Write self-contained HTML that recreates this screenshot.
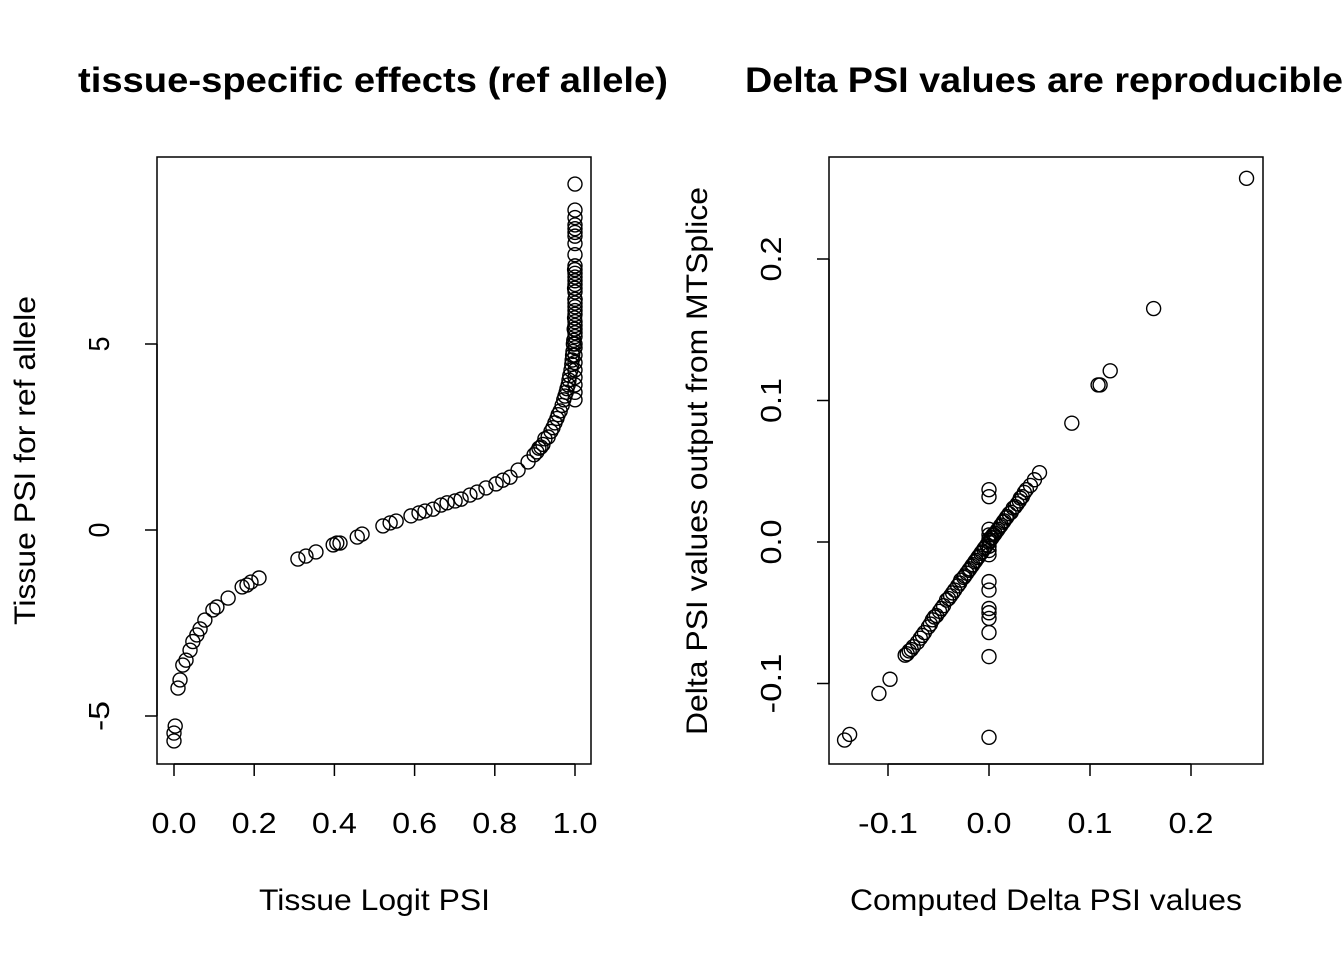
<!DOCTYPE html>
<html><head><meta charset="utf-8"><style>
body{margin:0;background:#fff}
svg text{font-family:"Liberation Sans",Arial,sans-serif;fill:#000}
</style></head><body>
<svg id="chart" width="1344" height="960" xmlns="http://www.w3.org/2000/svg">
<text x="78" y="92" font-size="35" font-weight="bold" textLength="590" lengthAdjust="spacingAndGlyphs">tissue-specific effects (ref allele)</text>
<text x="745" y="92" font-size="35" font-weight="bold" textLength="598" lengthAdjust="spacingAndGlyphs">Delta PSI values are reproducible</text>
<text x="259" y="910" font-size="30" textLength="231" lengthAdjust="spacingAndGlyphs">Tissue Logit PSI</text>
<text transform="translate(35,625) rotate(-90)" font-size="30" textLength="329" lengthAdjust="spacingAndGlyphs">Tissue PSI for ref allele</text>
<text x="850" y="910" font-size="30" textLength="392" lengthAdjust="spacingAndGlyphs">Computed Delta PSI values</text>
<text transform="translate(707,735) rotate(-90)" font-size="30" textLength="548" lengthAdjust="spacingAndGlyphs">Delta PSI values output from MTSplice</text>
<rect x="157" y="157" width="434" height="607" fill="none" stroke="#000" stroke-width="1.5"/>
<rect x="829" y="157" width="434" height="607" fill="none" stroke="#000" stroke-width="1.5"/>
<g id="layer"></g>
</svg>
<script>
const leftX=[0.0,0.0,0.003,0.01,0.015,0.022,0.03,0.04,0.047,0.057,0.065,0.077,0.097,0.107,0.135,0.170,0.182,0.192,0.212,0.309,0.329,0.354,0.397,0.406,0.414,0.457,0.469,0.521,0.539,0.554,0.591,0.611,0.626,0.646,0.666,0.681,0.701,0.716,0.738,0.756,0.778,0.803,0.82,0.838,0.858,0.883,0.898,0.905,0.915,0.92,0.933,0.94,0.95,0.955,0.963,0.968,0.975,0.98,0.985,0.99,0.993,0.995,0.997,0.998,1.0,
0.91,0.925,0.945,0.958,0.972,0.978,0.983,0.987,0.992,0.994,0.996,0.999,0.999,0.999,
1,1,1,1,1,1,1,1,1,1,1,1,1,1,1,1,1,1,1,1,1,1,1,1,1,1,1,1,1,1,1,1,1,1,1,1];
const leftY=[-5.67,-5.46,-5.27,-4.25,-4.03,-3.63,-3.5,-3.23,-3.0,-2.82,-2.66,-2.42,-2.15,-2.07,-1.83,-1.53,-1.48,-1.40,-1.29,-0.78,-0.70,-0.59,-0.40,-0.35,-0.35,-0.19,-0.11,0.11,0.19,0.24,0.38,0.46,0.51,0.56,0.67,0.73,0.78,0.83,0.94,1.02,1.13,1.24,1.34,1.42,1.61,1.83,2.02,2.1,2.23,2.3,2.5,2.65,2.88,3.0,3.2,3.35,3.6,3.8,4.03,4.3,4.57,4.8,5.1,5.4,6.2,
2.2,2.45,2.75,3.1,3.5,3.7,3.9,4.15,4.45,4.7,5.0,5.7,6.5,7.0,
3.5,3.7,3.9,4.1,4.3,4.5,4.7,4.9,5.0,5.2,5.4,5.6,5.8,6.0,6.2,6.4,6.6,6.8,7.0,6.5,6.7,6.9,7.1,7.4,7.7,8.0,8.2,8.4,8.6,7.9,8.1,6.1,9.3,5.3,5.5,5.9];
const leftXTicks=[0,0.2,0.4,0.6,0.8,1.0];
const leftXTickLabels=["0.0","0.2","0.4","0.6","0.8","1.0"];
const leftYTicks=[-5,0,5];
const leftYTickLabels=["-5","0","5"];

const rightX=[0.255,0.163,0.12,0.11,0.108,0.082,-0.098,-0.109,-0.138,-0.143,
0,0,0,0,0,0,0,0,0,0,
-0.083,-0.079,-0.075,-0.071,-0.068,-0.064,-0.06,-0.056,-0.052,-0.049,-0.045,-0.042,-0.038,-0.034,-0.031,-0.028,-0.025,-0.022,-0.019,-0.016,-0.013,-0.01,-0.007,-0.004,-0.002,0.0,0.002,0.004,0.006,0.009,0.012,0.015,0.018,0.022,0.026,0.03,0.033,0.037,0.041,0.045,0.05,
-0.081,-0.077,-0.066,-0.058,-0.054,-0.047,-0.040,-0.036,-0.029,-0.024,-0.020,-0.017,-0.014,-0.011,-0.008,-0.005,0.001,0.003,0.005,0.008,0.011,0.014,0.017,0.020,0.024,0.028,0.031,0.035,
0,0,0,0,0,0];
const rightY=[0.257,0.165,0.121,0.111,0.111,0.084,-0.097,-0.107,-0.136,-0.14,
0.037,0.032,-0.028,-0.034,-0.047,-0.05,-0.054,-0.064,-0.081,-0.138,
-0.080,-0.077,-0.074,-0.071,-0.068,-0.064,-0.06,-0.055,-0.052,-0.049,-0.045,-0.041,-0.038,-0.034,-0.031,-0.027,-0.025,-0.022,-0.019,-0.016,-0.013,-0.01,-0.007,-0.004,-0.002,0.0,0.003,0.005,0.006,0.009,0.012,0.015,0.018,0.021,0.025,0.029,0.032,0.037,0.040,0.044,0.049,
-0.079,-0.076,-0.066,-0.058,-0.053,-0.047,-0.040,-0.036,-0.029,-0.024,-0.020,-0.017,-0.014,-0.011,-0.008,-0.005,0.001,0.003,0.005,0.008,0.011,0.014,0.017,0.020,0.024,0.027,0.031,0.035,
0.009,0.005,0.002,-0.003,-0.006,-0.009];
const rightXTicks=[-0.1,0,0.1,0.2];
const rightXTickLabels=["-0.1","0.0","0.1","0.2"];
const rightYTicks=[-0.1,0,0.1,0.2];
const rightYTickLabels=["-0.1","0.0","0.1","0.2"];

const NS="http://www.w3.org/2000/svg";
const layer=document.getElementById('layer');
function mk(tag,attrs){const e=document.createElementNS(NS,tag);for(const k in attrs)e.setAttribute(k,attrs[k]);layer.appendChild(e);return e;}
const lx=v=>174+v*401, ly=v=>530-v*37.2;
const rx=v=>989+v*1010, ry=v=>542-v*1415;
const cw=15;

function axes(prefix,xt,xl,yt,yl,fx,fy,left,bottom){
  const x0=fx(xt[0]),x1=fx(xt[xt.length-1]);
  let e=mk('line',{x1:x0,x2:x1,y1:bottom,y2:bottom,stroke:'#000','stroke-width':1.5});
  
  
  xt.forEach((t,i)=>{
    let l=mk('line',{x1:fx(t),x2:fx(t),y1:bottom,y2:bottom+12,stroke:'#000','stroke-width':1.5});
    
    
    let s=mk('text',{x:fx(t),y:bottom+69,'text-anchor':'middle','font-size':29,textLength:xl[i].length*cw,lengthAdjust:'spacingAndGlyphs'});
    s.textContent=xl[i];
    
    
  });
  const y0=fy(yt[0]),y1=fy(yt[yt.length-1]);
  e=mk('line',{x1:left,x2:left,y1:y0,y2:y1,stroke:'#000','stroke-width':1.5});
  
  
  yt.forEach((t,i)=>{
    let l=mk('line',{x1:left-12,x2:left,y1:fy(t),y2:fy(t),stroke:'#000','stroke-width':1.5});
    
    
    let s=mk('text',{transform:`translate(${left-48},${fy(t)}) rotate(-90)`,'text-anchor':'middle','font-size':29,textLength:yl[i].length*cw,lengthAdjust:'spacingAndGlyphs'});
    s.textContent=yl[i];
    
    
  });
}
axes('left',leftXTicks,leftXTickLabels,leftYTicks,leftYTickLabels,lx,ly,157,764);
axes('right',rightXTicks,rightXTickLabels,rightYTicks,rightYTickLabels,rx,ry,829,764);

leftX.forEach((v,i)=>{
  const c=mk('circle',{cx:lx(v),cy:ly(leftY[i]),r:7,fill:'none',stroke:'#000','stroke-width':1.4});
  
  
});
rightX.forEach((v,i)=>{
  const c=mk('circle',{cx:rx(v),cy:ry(rightY[i]),r:7,fill:'none',stroke:'#000','stroke-width':1.4});
  
  
});
</script>
</body></html>
